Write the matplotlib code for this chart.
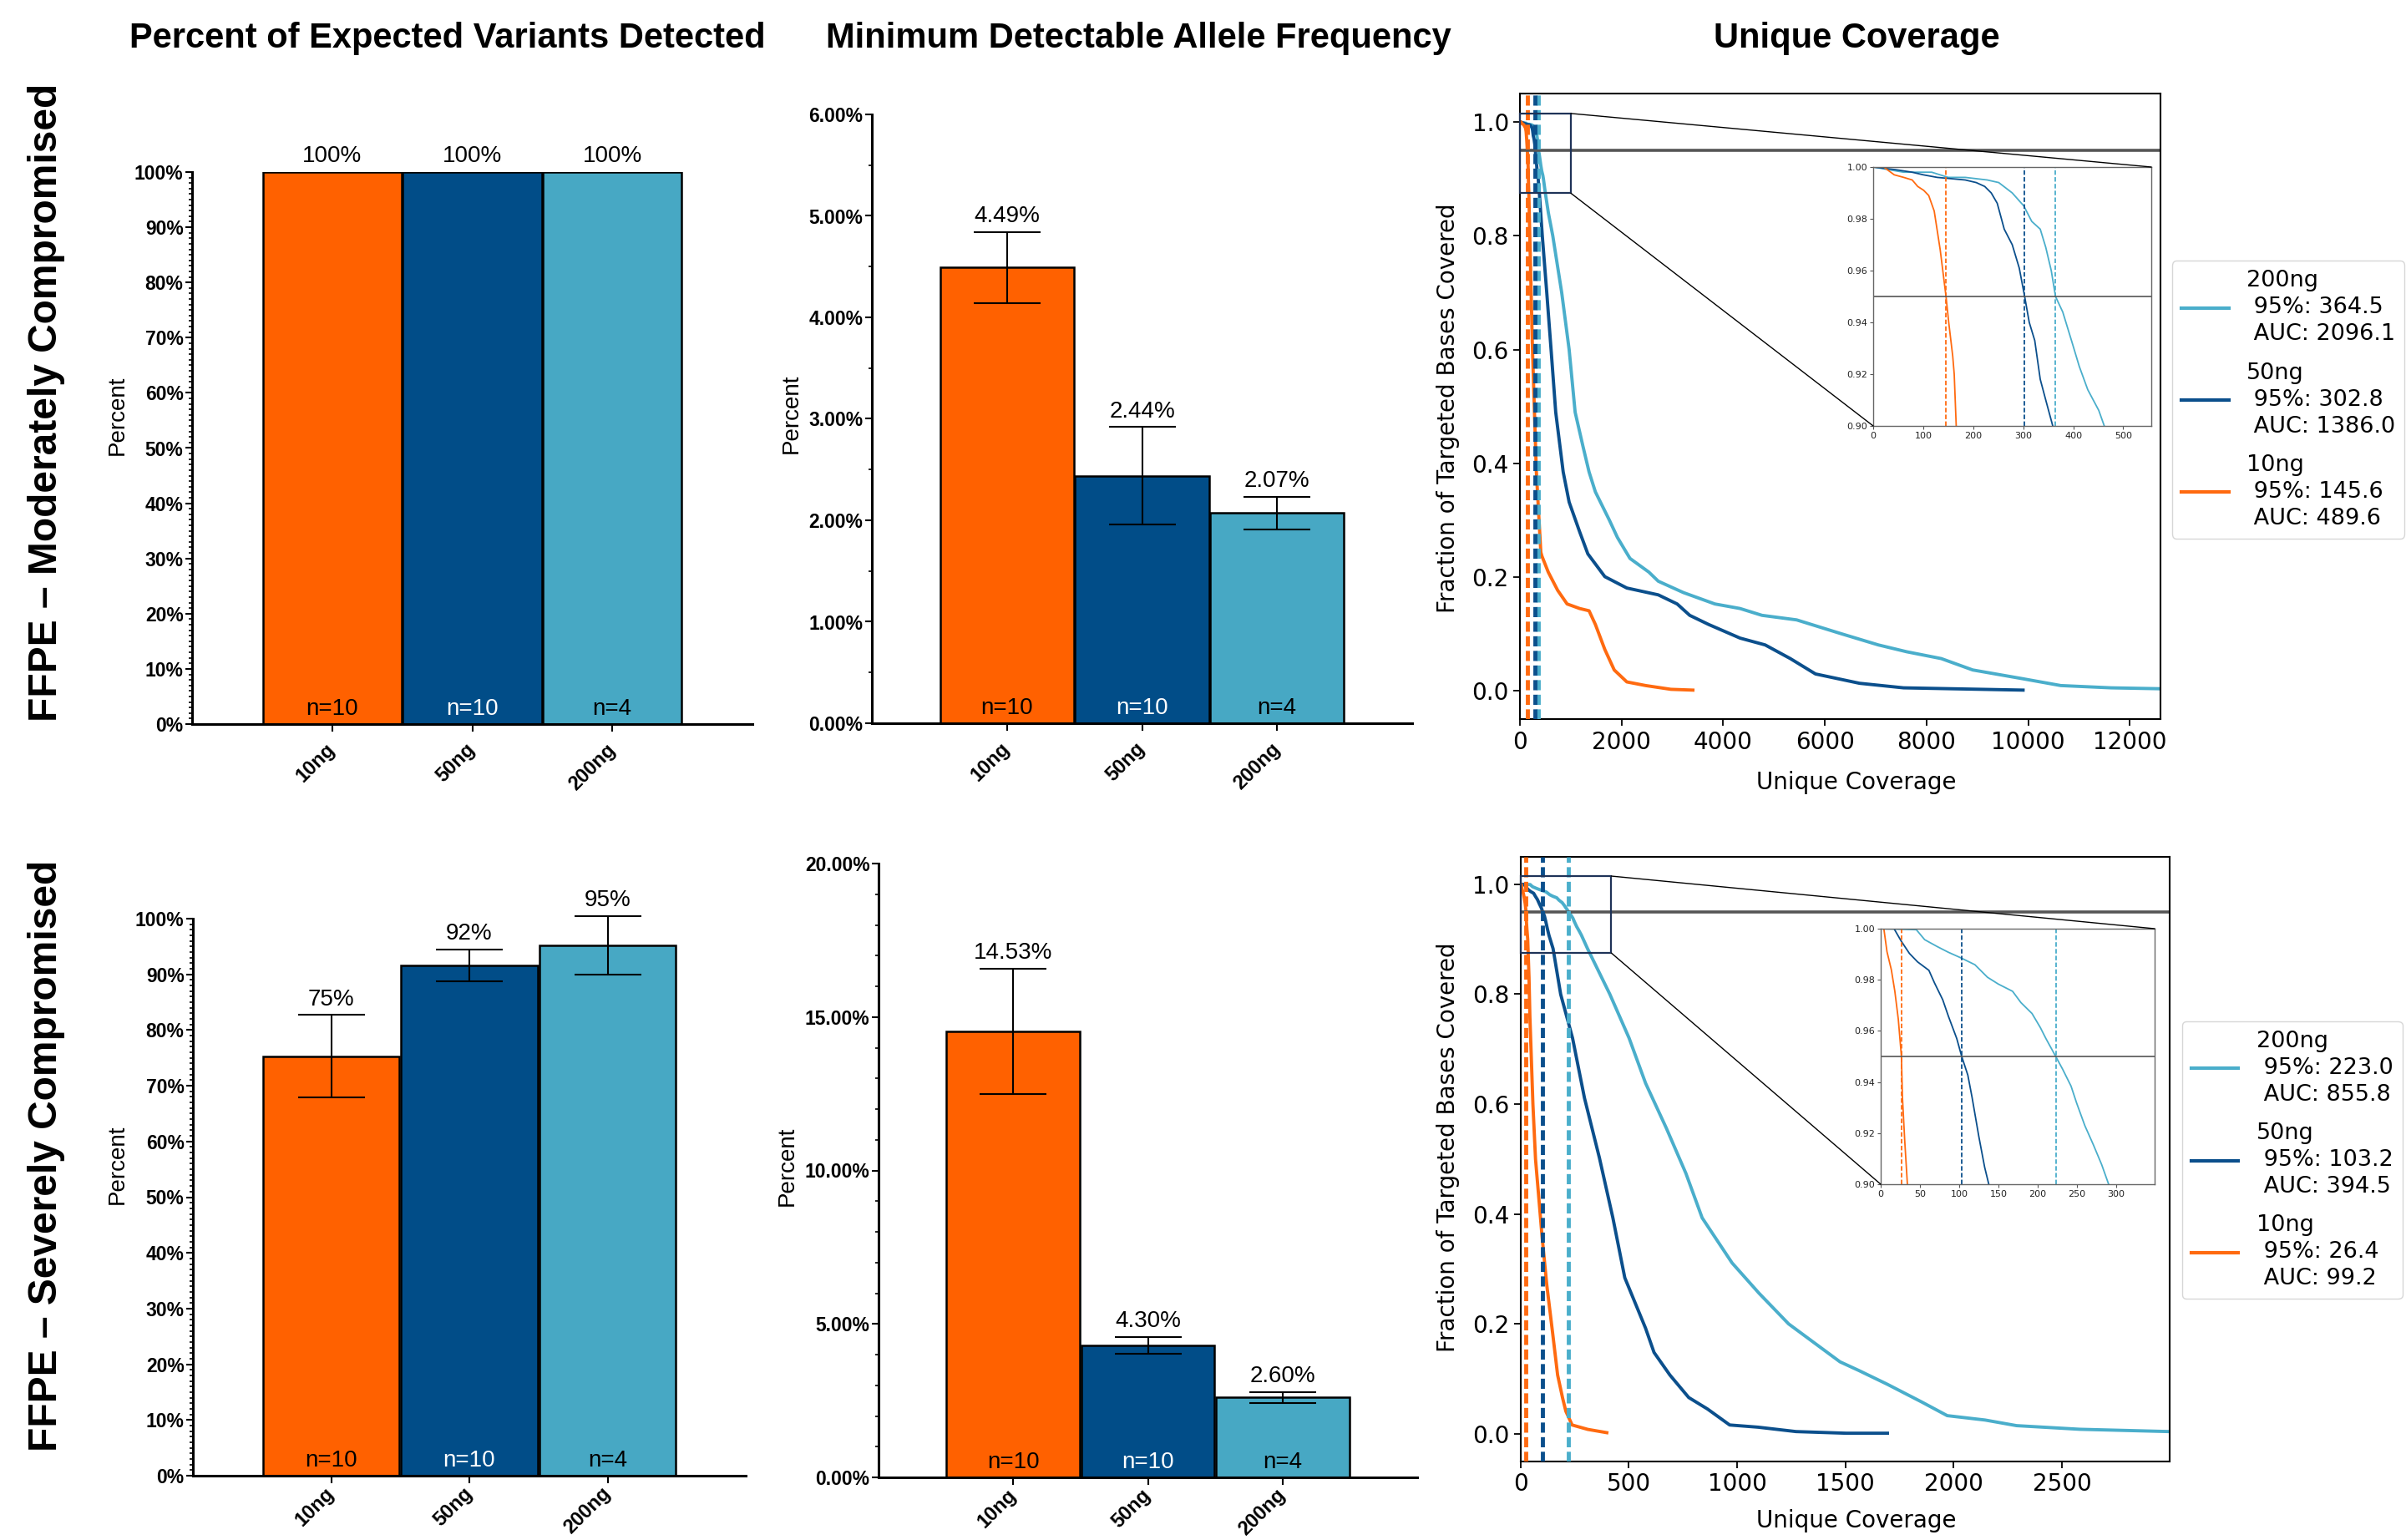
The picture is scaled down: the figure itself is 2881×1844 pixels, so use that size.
import matplotlib
matplotlib.use("Agg")
import matplotlib.pyplot as plt
from matplotlib.patches import ConnectionPatch, Rectangle
from matplotlib.ticker import MultipleLocator

# ---- data ----
inputs = ["10ng", "50ng", "200ng"]
n_labels = ["n=10", "n=10", "n=4"]

# percent of expected variants detected
mod_detect = [100.0, 100.0, 100.0]
mod_detect_err = [0.0, 0.0, 0.0]
sev_detect = [75.3, 91.6, 95.2]
sev_detect_err = [7.4, 2.9, 5.3]

# minimum detectable allele frequency (%)
mod_maf = [4.49, 2.44, 2.07]
mod_maf_err = [0.35, 0.48, 0.16]
sev_maf = [14.53, 4.30, 2.60]
sev_maf_err = [2.05, 0.27, 0.18]

# coverage summary: coverage at 95% of bases, area under curve
mod_q95 = [145.6, 302.8, 364.5]
mod_auc = [489.6, 1386.0, 2096.1]
sev_q95 = [26.4, 103.2, 223.0]
sev_auc = [99.2, 394.5, 855.8]

# coverage curves, moderately compromised
mod10_x = [0, 21, 42, 61, 78, 89, 101, 111, 122, 134, 145.6, 151, 159, 162, 166, 175, 194, 247, 323,
           411, 433, 557, 742, 928, 1175, 1360, 1484, 1670, 1855, 2103, 2474, 2969, 3402]
mod10_y = [1.0, 1.0, 0.997, 0.996, 0.995, 0.9925, 0.991, 0.989, 0.983, 0.968, 0.95, 0.94, 0.927, 0.92,
           0.90, 0.875, 0.80, 0.60, 0.385, 0.244, 0.237, 0.209, 0.177, 0.153, 0.145, 0.141, 0.117,
           0.073, 0.037, 0.016, 0.0096, 0.003, 0.0016]
mod50_x = [0, 44, 78, 100, 128, 156, 184, 206, 223, 236, 248, 262, 278, 292, 302.8, 312, 323, 334,
           345, 359, 382, 440, 528, 616, 704, 851, 968, 1174, 1336, 1670, 2103, 2721, 3093, 3340,
           3711, 4330, 4824, 5319, 5814, 6680, 7546, 9897]
mod50_y = [1.0, 0.999, 0.998, 0.997, 0.996, 0.9955, 0.995, 0.994, 0.9925, 0.990, 0.986, 0.976,
           0.970, 0.961, 0.95, 0.94, 0.933, 0.918, 0.91, 0.90, 0.875, 0.80, 0.70, 0.596, 0.49, 0.385,
           0.332, 0.28, 0.241, 0.201, 0.181, 0.169, 0.153, 0.133, 0.117, 0.093, 0.081, 0.057, 0.030,
           0.0136, 0.0056, 0.0016]
mod200_x = [0, 61, 117, 150, 184, 228, 251, 278, 301, 317, 334, 345, 356, 364.5, 379, 398, 412, 429,
            451, 462, 500, 560, 646, 822, 968, 1086, 1240, 1360, 1484, 1650, 1761, 1917, 2084, 2165,
            2536, 2721, 3216, 3835, 4330, 4762, 5443, 5876, 6309, 7051, 7608, 8288, 8907, 9897,
            10639, 11629, 12600]
mod200_y = [1.0, 0.998, 0.998, 0.996, 0.996, 0.995, 0.994, 0.990, 0.985, 0.979, 0.976, 0.969, 0.960,
            0.95, 0.944, 0.932, 0.923, 0.914, 0.906, 0.90, 0.875, 0.84, 0.80, 0.70, 0.60, 0.49, 0.43,
            0.385, 0.35, 0.32, 0.30, 0.27, 0.245, 0.233, 0.209, 0.193, 0.173, 0.153, 0.145, 0.133,
            0.125, 0.113, 0.101, 0.081, 0.069, 0.057, 0.037, 0.0215, 0.0096, 0.0056, 0.004]

# coverage curves, severely compromised
sev10_x = [0, 4, 8, 13.5, 18, 22.4, 26.4, 27.7, 30.5, 34, 40, 44, 58, 70, 84, 100, 122, 150, 172, 195,
           210, 239, 311, 399]
sev10_y = [1.0, 1.0, 0.991, 0.984, 0.9755, 0.9646, 0.95, 0.934, 0.9176, 0.90, 0.83, 0.76, 0.60, 0.50,
           0.435, 0.36, 0.271, 0.18, 0.107, 0.065, 0.041, 0.016, 0.008, 0.002]
sev50_x = [0, 17, 26, 36.6, 47, 61.4, 68.5, 79, 86.3, 96.9, 103.2, 111, 116.4, 125, 132.4, 137.7, 151,
           186, 241, 296, 365, 427, 482, 578, 617, 690, 777, 864, 966, 1097, 1272, 1504, 1694]
sev50_y = [1.0, 1.0, 0.9952, 0.9903, 0.987, 0.9837, 0.9788, 0.9722, 0.9657, 0.957, 0.95, 0.9427,
           0.934, 0.9187, 0.9067, 0.90, 0.883, 0.80, 0.72, 0.611, 0.502, 0.393, 0.284, 0.192, 0.148,
           0.107, 0.066, 0.045, 0.016, 0.012, 0.004, 0.001, 0.001]
sev200_x = [0, 45.4, 56, 72, 86, 102, 120, 136, 150, 168, 178.6, 192.8, 203.4, 210.5, 223, 231.8,
            242.5, 249.6, 260, 271, 281.5, 290.4, 310, 413, 502, 578, 674, 764, 839, 977, 1101, 1238,
            1475, 1563, 1694, 1854, 1970, 2145, 2290, 2581, 2995]
sev200_y = [1.0, 0.9996, 0.9957, 0.993, 0.9908, 0.9886, 0.9859, 0.981, 0.9783, 0.9755, 0.9711,
            0.9668, 0.9613, 0.957, 0.95, 0.945, 0.9384, 0.9318, 0.923, 0.9154, 0.9077, 0.90, 0.883,
            0.80, 0.72, 0.638, 0.556, 0.474, 0.393, 0.311, 0.256, 0.20, 0.131, 0.115, 0.090, 0.0575,
            0.033, 0.025, 0.0148, 0.0082, 0.004]

bar_colors = ["#FF6100", "#014D88", "#47A8C4"]
line_colors = ["#FF6A10", "#0B4F8C", "#4AAECB"]
n_colors = ["black", "white", "black"]
ARIAL = "Liberation Sans"

W, H = 2881, 1844
fig = plt.figure(figsize=(W / 100, H / 100), dpi=100)


def px_rect(x0, y0, x1, y1):
    return [x0 / W, 1 - y1 / H, (x1 - x0) / W, (y1 - y0) / H]


def bar_panel(ax, vals, errs, ymax, major, minor, decimals, label_xy, xpad=13):
    x = list(range(len(inputs)))
    yerr = errs if any(errs) else None
    bars = ax.bar(x, vals, width=0.99, color=bar_colors, edgecolor="black", linewidth=1.8, yerr=yerr,
                  error_kw=dict(ecolor="black", elinewidth=1.5, capsize=29, capthick=1.5))
    if bars.errorbar is not None:
        for art in bars.errorbar.get_children():
            art.set_clip_on(False)
    for xi, v, e in zip(x, vals, errs):
        ax.annotate(f"{v:.{decimals}f}%", (xi, v + e), xytext=(0, 4), textcoords="offset points",
                    ha="center", va="bottom", fontsize=20, family=ARIAL, annotation_clip=False)
    for xi, n, c in zip(x, n_labels, n_colors):
        ax.annotate(n, (xi, 0), xytext=(0, 8), textcoords="offset points", ha="center",
                    va="baseline", fontsize=20, family=ARIAL, color=c)
    ax.set_xlim(-1, 3)
    ax.set_ylim(0, ymax)
    ticks = [i * major for i in range(int(round(ymax / major)) + 1)]
    ax.set_yticks(ticks, [f"{t:.{decimals}f}%" for t in ticks], fontsize=16.5, fontweight="bold",
                  family=ARIAL)
    ax.yaxis.set_minor_locator(MultipleLocator(minor))
    ax.set_xticks(x, inputs, rotation=45, ha="right", va="center", rotation_mode="anchor",
                  fontsize=17, fontweight="bold", family=ARIAL)
    ax.tick_params(axis="y", which="major", length=6, width=1.5, pad=1.5)
    ax.tick_params(axis="y", which="minor", length=3, width=1.2)
    ax.tick_params(axis="x", length=6.5, width=1.5, pad=xpad)
    for s in ["top", "right"]:
        ax.spines[s].set_visible(False)
    for s in ["left", "bottom"]:
        ax.spines[s].set_linewidth(2.2)
    ax.set_ylabel("Percent", fontsize=20, family=ARIAL)
    ax.yaxis.set_label_coords(*label_xy)
    ax.yaxis.label.set_va("center")


def coverage_panel(ax, ins, curves, q95, auc, xmax, xstep, ins_xmax, ins_xstep, box_w,
                   legend_xy, xlabel_xy, ylabel_xy):
    for i in [2, 1, 0]:
        xs, ys = curves[i]
        lab = f"{inputs[i]}\n 95%: {q95[i]:.1f}\n AUC: {auc[i]:.1f}"
        ax.plot(xs, ys, color=line_colors[i], lw=2.8, label=lab)
        ins.plot(xs, ys, color=line_colors[i], lw=1.3)
    for i in [2, 1, 0]:
        ax.axvline(q95[i], color=line_colors[i], lw=3.5, linestyle=(0, (2.5, 1.1)), zorder=3)
        ins.axvline(q95[i], color=line_colors[i], lw=1.3, linestyle=(0, (3, 1.5)))
    ax.axhline(0.95, color="#555555", lw=2.6)
    ins.axhline(0.95, color="#555555", lw=1.2)

    ax.set_xlim(0, xmax)
    ax.set_ylim(-0.05, 1.05)
    ax.xaxis.set_major_locator(MultipleLocator(xstep))
    ax.yaxis.set_major_locator(MultipleLocator(0.2))
    ax.tick_params(labelsize=20, length=6, width=1.3)
    for s in ax.spines.values():
        s.set_linewidth(1.5)
    ax.set_xlabel("Unique Coverage", fontsize=20)
    ax.set_ylabel("Fraction of Targeted Bases Covered", fontsize=20)
    ax.xaxis.set_label_coords(*xlabel_xy)
    ax.xaxis.label.set_va("center")
    ax.yaxis.set_label_coords(*ylabel_xy)
    ax.yaxis.label.set_va("center")

    ins.set_xlim(0, ins_xmax)
    ins.set_ylim(0.90, 1.00)
    ins.xaxis.set_major_locator(MultipleLocator(ins_xstep))
    ins.yaxis.set_major_locator(MultipleLocator(0.02))
    ins.yaxis.set_major_formatter(lambda v, p: f"{v:.2f}")
    ins.tick_params(labelsize=8, length=3, width=0.8, color="#555555", labelcolor="#222222", pad=2)
    for s in ins.spines.values():
        s.set_edgecolor("#666666")
        s.set_linewidth(1.0)

    # zoom box and connectors
    box_y0, box_y1 = 0.875, 1.015
    ax.add_patch(Rectangle((0, box_y0), box_w, box_y1 - box_y0, fill=False, edgecolor="#1f3358",
                           lw=1.6, zorder=5, clip_on=False))
    for xy_a, xy_b in [((box_w, box_y1), (1, 1)), ((box_w, box_y0), (0, 0))]:
        fig.add_artist(ConnectionPatch(xyA=xy_a, coordsA=ax.transData, xyB=xy_b,
                                       coordsB=ins.transAxes, color="black", lw=1.0))

    leg = ax.legend(loc="center left", bbox_to_anchor=legend_xy, bbox_transform=fig.transFigure,
                    borderaxespad=0, fontsize=19.5, handlelength=2.1, labelspacing=0.75)
    for t in leg.get_texts():
        t.set_linespacing(1.3)
    for h in leg.legend_handles:
        h.set_linewidth(3)


# ---- top row: moderately compromised ----
ax1 = fig.add_axes(px_rect(230, 206, 901, 867))
bar_panel(ax1, mod_detect, mod_detect_err, 100, 10, 1, 0, (-0.133, 0.56))
ax2 = fig.add_axes(px_rect(1044, 137, 1691, 866))
bar_panel(ax2, mod_maf, mod_maf_err, 6, 1, 0.5, 2, (-0.148, 0.508))
ax3 = fig.add_axes(px_rect(1820, 112, 2587, 861.5))
ins3 = fig.add_axes(px_rect(2243, 200, 2576, 510))
coverage_panel(ax3, ins3, [(mod10_x, mod10_y), (mod50_x, mod50_y), (mod200_x, mod200_y)],
               mod_q95, mod_auc, 12600, 2000, 556, 100, 1000,
               (2601 / W, 1 - 478.5 / H), (0.525, -0.1007), (-0.112, 0.497))

# ---- bottom row: severely compromised ----
ax4 = fig.add_axes(px_rect(231, 1100, 893, 1767))
bar_panel(ax4, sev_detect, sev_detect_err, 100, 10, 1, 0, (-0.136, 0.559), xpad=6)
ax5 = fig.add_axes(px_rect(1052, 1034, 1697, 1769))
bar_panel(ax5, sev_maf, sev_maf_err, 20, 5, 1, 2, (-0.170, 0.507), xpad=6)
ax6 = fig.add_axes(px_rect(1820.5, 1026, 2597.6, 1749.7))
ins6 = fig.add_axes(px_rect(2252, 1112, 2580, 1418))
coverage_panel(ax6, ins6, [(sev10_x, sev10_y), (sev50_x, sev50_y), (sev200_x, sev200_y)],
               sev_q95, sev_auc, 2995, 500, 349, 50, 420,
               (2612.7 / W, 1 - 1389 / H), (0.518, -0.098), (-0.111, 0.52))

# ---- column titles and row labels ----
for x, t in [(536, "Percent of Expected Variants Detected"),
             (1363, "Minimum Detectable Allele Frequency"),
             (2223, "Unique Coverage")]:
    fig.text(x / W, 1 - 46 / H, t, ha="center", va="center", fontsize=30, fontweight="bold",
             family=ARIAL)
for y, t in [(482, "FFPE \u2013 Moderately Compromised"), (1384, "FFPE \u2013 Severely Compromised")]:
    fig.text(56 / W, 1 - y / H, t, ha="center", va="center", rotation=90, fontsize=34.5,
             fontweight="bold", family=ARIAL)

fig.savefig("out.png", dpi=100)
